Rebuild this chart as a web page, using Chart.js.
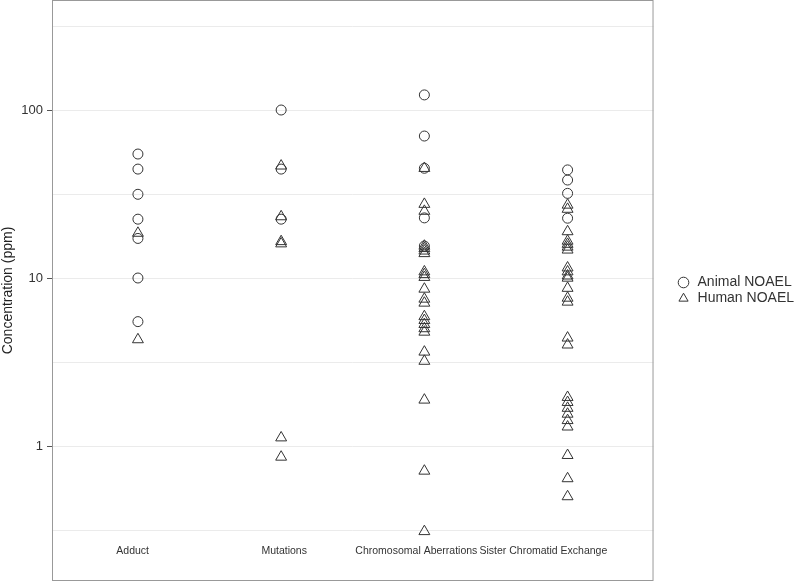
<!DOCTYPE html>
<html>
<head>
<meta charset="utf-8">
<script src="https://cdn.jsdelivr.net/npm/chart.js@4.4.1/dist/chart.umd.min.js"></script>
<style>
  html, body { margin: 0; padding: 0; background: #fff; }
  #wrap { width: 795px; height: 582px; }
</style>
</head>
<body>
<div id="wrap"><canvas id="chart"></canvas></div>
<script>
// categories along the x axis
const categories = ["Adduct", "Mutations", "Chromosomal Aberrations", "Sister Chromatid Exchange"];

// Animal NOAEL values (ppm), one list per category
const animalAdduct = [54.7, 44.5, 31.5, 22.4, 17.2, 10, 5.5];
const animalMutations = [100, 44.5, 22.4];
const animalChromosomal = [123, 70, 45, 22.8, 15.5];
const animalSce = [44, 38.3, 31.9, 22.7];

// Human NOAEL values (ppm)
const humanAdduct = [18.5, 4.3];
const humanMutations = [46.5, 23.2, 16.5, 16.0, 1.12, 0.86];
const humanChromosomal = [45, 27.5, 25, 15.5, 15, 14.5, 14, 10.9, 10.5, 10.1, 8.6, 7.5, 7.1,
    5.9, 5.6, 5.3, 5.0, 4.77, 3.63, 3.2, 1.88, 0.71, 0.31];
const humanSce = [27.2, 25.7, 18.9, 16.6, 15.9, 15.3, 14.7, 11.5, 10.9, 10.3, 10, 8.7, 7.6, 7.2,
    4.4, 4.0, 1.95, 1.82, 1.68, 1.55, 1.42, 1.3, 0.88, 0.64, 0.50];

// y axis: labelled ticks and the half-decade grid lines
const yTickValues = [1, 10, 100];
const yHalfDecades = [0.3162, 3.162, 31.62, 316.2];
const yMin = 0.1572;
const yMax = 451.7;

// the category labels in the original sit a little off their columns
const labelNudge = [-0.037, 0.021, -0.056, -0.169];

const toPoints = (lists) => lists.flatMap((vals, i) => vals.map((v) => ({ x: i + 1, y: v })));

Chart.defaults.font.family = "'Liberation Sans', Arial, sans-serif";
Chart.defaults.color = "#333";

const framePlugin = {
    id: "frame",
    afterLayout(chart) {
        // push the legend a bit away from the plot, like the original
        chart.legend.left += 21;
        chart.legend.right += 21;
    },
    afterDraw(chart) {
        const { ctx, chartArea: a } = chart;
        ctx.save();
        ctx.strokeStyle = "#999";
        ctx.lineWidth = 1;
        ctx.strokeRect(a.left + 0.5, a.top + 0.5, a.right - a.left - 1, a.bottom - a.top - 1);
        ctx.restore();
    },
};

new Chart(document.getElementById("chart"), {
    type: "scatter",
    data: {
        datasets: [
            {
                label: "Animal NOAEL",
                data: toPoints([animalAdduct, animalMutations, animalChromosomal, animalSce]),
                pointStyle: "circle",
                pointRadius: 5,
                pointHoverRadius: 5,
                borderColor: "#333",
                backgroundColor: "rgba(0,0,0,0)",
                borderWidth: 1,
            },
            {
                label: "Human NOAEL",
                data: toPoints([humanAdduct, humanMutations, humanChromosomal, humanSce]),
                pointStyle: "triangle",
                pointRadius: 6.3,
                pointHoverRadius: 6.3,
                borderColor: "#333",
                backgroundColor: "rgba(0,0,0,0)",
                borderWidth: 1,
            },
        ],
    },
    options: {
        responsive: true,
        maintainAspectRatio: false,
        animation: false,
        layout: { autoPadding: false, padding: { top: 0, bottom: 1, left: 0, right: 12 } },
        plugins: {
            tooltip: { enabled: false },
            legend: {
                position: "right",
                labels: {
                    usePointStyle: true,
                    boxWidth: 14,
                    boxHeight: 7.5,
                    padding: 2,
                    color: "#333",
                    font: { size: 14 },
                },
            },
        },
        scales: {
            x: {
                axis: "x",
                type: "linear",
                min: 0.4,
                max: 4.6,
                bounds: "data",
                position: { y: 0.27 },
                grid: { display: false, drawTicks: false },
                border: { display: false },
                afterBuildTicks: (scale) => {
                    scale.ticks = categories.map((c, i) => ({ value: i + 1 + labelNudge[i] }));
                },
                afterFit: (scale) => {
                    scale.paddingLeft = 0;
                    scale.paddingRight = 0;
                },
                ticks: {
                    callback: (v, i) => categories[i] || "",
                    color: "#333",
                    font: { size: 10.5 },
                    padding: 3,
                    maxRotation: 0,
                    autoSkip: false,
                },
            },
            y: {
                type: "logarithmic",
                min: yMin,
                max: yMax,
                bounds: "data",
                position: "left",
                afterBuildTicks: (scale) => {
                    scale.ticks = yTickValues.concat(yHalfDecades).sort((a, b) => a - b).map((v) => ({ value: v }));
                },
                afterFit: (scale) => {
                    scale.width = 52;
                    scale.paddingTop = 0;
                    scale.paddingBottom = 0;
                },
                grid: {
                    color: "#ebebeb",
                    tickLength: 5,
                    tickColor: (ctx) => (ctx.tick && yTickValues.includes(ctx.tick.value) ? "#555" : "rgba(0,0,0,0)"),
                },
                border: { display: false },
                ticks: {
                    callback: (v) => (yTickValues.includes(v) ? String(v) : ""),
                    color: "#333",
                    font: { size: 13 },
                    padding: 4,
                    autoSkip: false,
                },
                title: {
                    display: true,
                    text: "Concentration (ppm)",
                    color: "#222",
                    font: { size: 14 },
                    padding: 0,
                },
            },
        },
    },
    plugins: [framePlugin],
});
</script>
</body>
</html>
